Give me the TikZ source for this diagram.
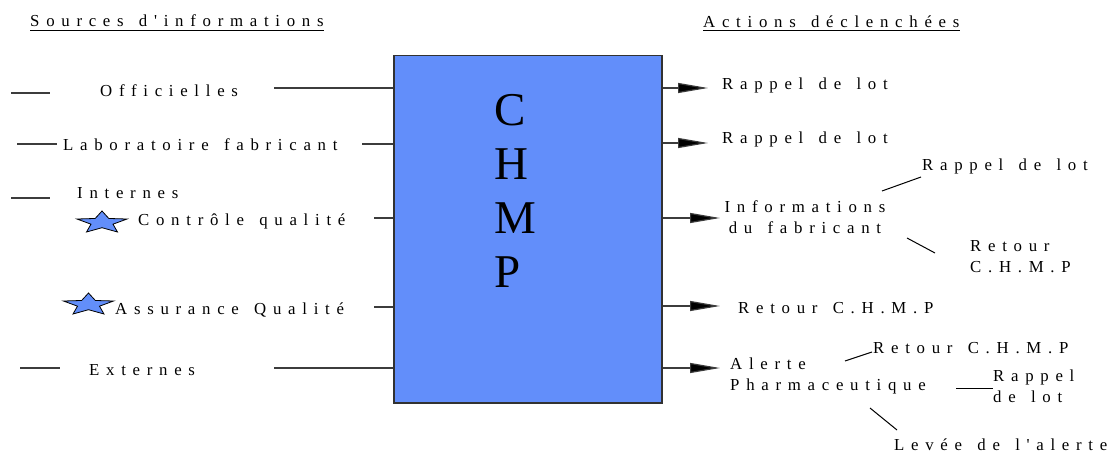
\documentclass[tikz,border=0pt]{standalone}
\usepackage{fontspec}
\setmainfont{Liberation Serif}
\newfontfamily\spaced{Liberation Serif}[LetterSpace=40,WordSpace=1.4]
\usetikzlibrary{arrows.meta}
\definecolor{chmpblue}{RGB}{98,142,250}
\definecolor{wiregray}{RGB}{60,60,60}
\definecolor{boxedge}{RGB}{50,50,50}

\begin{document}
\begin{tikzpicture}[x=1pt,y=-1pt,
  lbl/.style={inner sep=0pt, anchor=base west, font=\spaced\fontsize{16.8}{21}\selectfont},
  blockl/.style={lbl, align=left, anchor=north west},
  blockc/.style={lbl, align=center, anchor=north},
  wire/.style={draw=wiregray, line width=1.2pt},
  act/.style={wire, -{Triangle[length=30pt,width=10pt,fill=black]}},
  twig/.style={draw=black, line width=1pt},
  underl/.style={draw=black, line width=1pt},
  starfill/.style={fill=chmpblue, draw=black, line width=0.8pt},
  flatstar/.pic={
    \path[starfill] (270:1) -- (306:0.44) -- (342:1) -- (18:0.44) -- (54:1)
      -- (90:0.44) -- (126:1) -- (162:0.44) -- (198:1) -- (234:0.44) -- cycle;
  }
]
\useasboundingbox (0,0) rectangle (1109,452);

% headings
\node[lbl] (src) at (30,27) {Sources d'informations};
\node[lbl] (act) at (703,28) {Actions déclenchées};
\draw[underl] ([yshift=-3.5pt]src.base west) -- ([yshift=-3.5pt]src.base east);
\draw[underl] ([yshift=-3pt]act.base west) -- ([yshift=-3pt]act.base east);

% central block
\node[draw=boxedge, fill=chmpblue, line width=1.5pt, inner sep=0pt,
      minimum width=268pt, minimum height=347pt, anchor=north west] (box) at (393,55) {};
\node[inner sep=0pt, anchor=north west, align=left,
      font=\fontsize{47}{54}\selectfont] (chmp) at (494,94) {C\\H\\M\\P};

% information sources
\node[lbl] (off)  at (100,96)  {Officielles};
\node[lbl] (labo) at (63,150)  {Laboratoire fabricant};
\node[lbl] (int)  at (77,198)  {Internes};
\node[lbl] (cq)   at (138,225) {Contrôle qualité};
\node[lbl] (aq)   at (115,314) {Assurance Qualité};
\node[lbl] (ext)  at (89,375)  {Externes};

\pic[xscale=26.3, yscale=11.6] at (102,222.6) {flatstar};
\pic[xscale=26.3, yscale=11.6] at (88.5,304.6) {flatstar};

% leading dashes
\coordinate (d1a) at (11,93);  \coordinate (d1b) at (50,93);
\coordinate (d2a) at (17,144); \coordinate (d2b) at (57,144);
\coordinate (d3a) at (11,198); \coordinate (d3b) at (50,198);
\coordinate (d4a) at (20,368); \coordinate (d4b) at (60,368);
\draw[wire] (d1a) -- (d1b);
\draw[wire] (d2a) -- (d2b);
\draw[wire] (d3a) -- (d3b);
\draw[wire] (d4a) -- (d4b);

% inputs into the block
\coordinate (i1) at (274,88);
\coordinate (i2) at (362,144);
\coordinate (i3) at (374,218);
\coordinate (i4) at (374,307);
\coordinate (i5) at (274,368);
\foreach \c in {i1,i2,i3,i4,i5} \draw[wire] (\c) -- (\c -| box.west);

% triggered actions
\coordinate (o1) at (708,88);
\coordinate (o2) at (708,143);
\coordinate (o3) at (720,218);
\coordinate (o4) at (720,306);
\coordinate (o5) at (720,368);
\foreach \c in {o1,o2,o3,o4,o5} \draw[act] (\c -| box.east) -- (\c);

\node[lbl] (r1) at (722,90)  {Rappel de lot};
\node[lbl] (r2) at (722,143) {Rappel de lot};
\node[blockc] (inf) at (805,200) {Informations\\du fabricant};
\node[lbl] (ret) at (738,313) {Retour C.H.M.P};
\node[blockl] (alt) at (730,357.7) {Alerte\\Pharmaceutique};

% follow-ups of the manufacturer information
\node[lbl] (infr) at (922,170) {Rappel de lot};
\node[blockl] (infc) at (970,240.7) {Retour\\C.H.M.P};
\coordinate (t1a) at (882,191); \coordinate (t1b) at (921,177);
\coordinate (t2a) at (907,238); \coordinate (t2b) at (935,253);
\draw[twig] (t1a) -- (t1b);
\draw[twig] (t2a) -- (t2b);

% follow-ups of the pharmaceutical alert
\node[lbl] (altc) at (873,353) {Retour C.H.M.P};
\node[blockl] (altr) at (993,369.7) {Rappel\\de lot};
\node[lbl] (altl) at (894,450) {Levée de l'alerte};
\coordinate (t3a) at (845,361); \coordinate (t3b) at (872,352);
\coordinate (t4a) at (956,388); \coordinate (t4b) at (993,388);
\coordinate (t5a) at (870,408); \coordinate (t5b) at (897,430);
\draw[twig] (t3a) -- (t3b);
\draw[twig] (t4a) -- (t4b);
\draw[twig] (t5a) -- (t5b);
\end{tikzpicture}
\end{document}
